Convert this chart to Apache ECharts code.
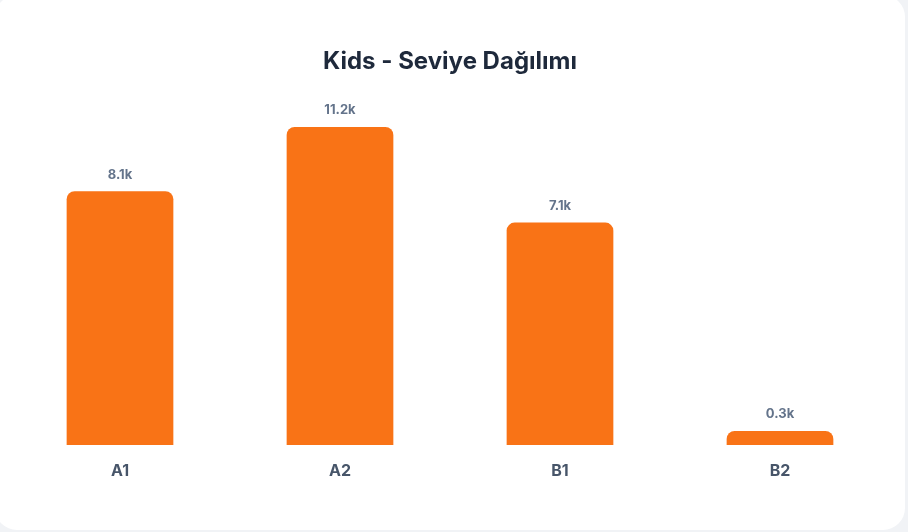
<!DOCTYPE html>
<html>
<head>
<meta charset="utf-8">
<script src="https://cdn.jsdelivr.net/npm/echarts@6/dist/echarts.min.js"></script>
<style>
  html, body { margin: 0; padding: 0; width: 908px; height: 532px; background: #f1f3f6; overflow: hidden; }
  #card { position: absolute; left: -5px; top: -5px; width: 910px; height: 535px; background: #ffffff; border-radius: 22px; }
  #chart { position: absolute; left: 0; top: 0; width: 900px; height: 532px; }
</style>
</head>
<body>
<div id="card"></div>
<div id="chart"></div>
<script>
const title = 'Kids - Seviye Dağılımı';
const categories = ['A1', 'A2', 'B1', 'B2'];
const values = [8100, 11200, 7100, 300];

const chart = echarts.init(document.getElementById('chart'), null, { renderer: 'canvas' });
chart.setOption({
  animation: false,
  title: {
    text: title,
    left: 'center',
    top: 45,
    textStyle: { fontFamily: 'Inter', fontSize: 24, fontWeight: 'bold', color: '#1e293b' }
  },
  grid: { left: 10, right: 10, top: 127, bottom: 87, containLabel: false },
  xAxis: {
    type: 'category',
    data: categories,
    axisLine: { show: false },
    axisTick: { show: false },
    axisLabel: { margin: 18, fontFamily: 'Inter', fontSize: 16, fontWeight: 'bold', color: '#475569' }
  },
  yAxis: {
    type: 'value',
    min: 0,
    max: 10150,
    show: false,
    splitLine: { show: false }
  },
  series: [{
    type: 'bar',
    data: values,
    barWidth: '48.5%',
    barMinHeight: 14,
    clip: true,
    itemStyle: { color: '#f97316', borderRadius: [8, 8, 0, 0] },
    label: {
      show: true,
      position: 'top',
      distance: 10,
      fontFamily: 'Inter',
      fontSize: 13,
      fontWeight: 'bold',
      color: '#64748b',
      formatter: p => (p.value / 1000).toFixed(1) + 'k'
    }
  }]
});
</script>
</body>
</html>
